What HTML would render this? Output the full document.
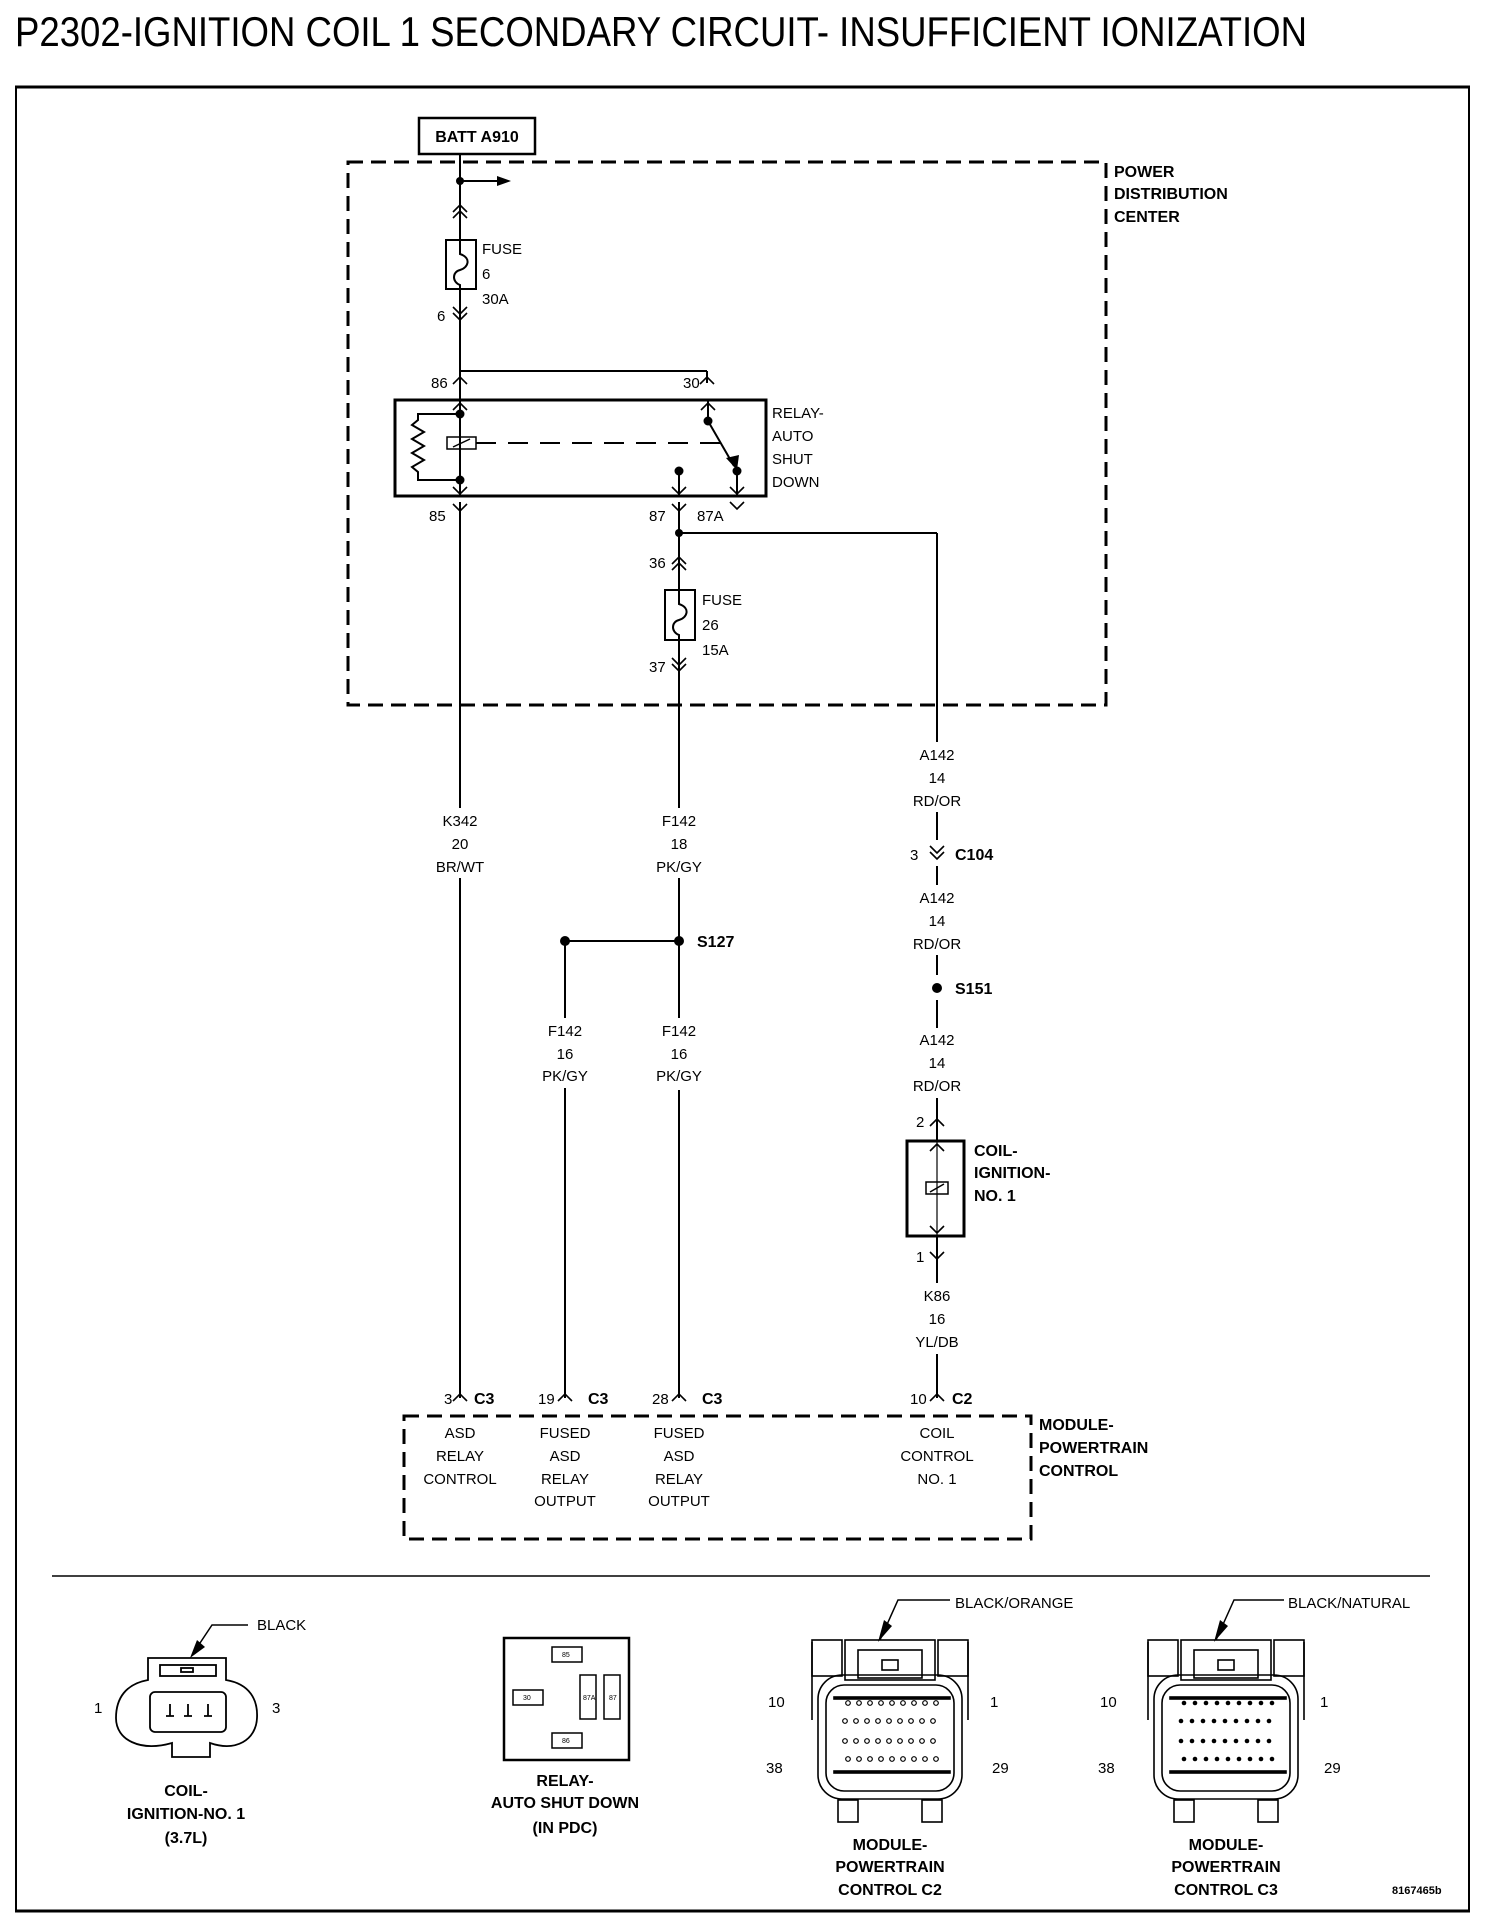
<!DOCTYPE html>
<html><head><meta charset="utf-8"><style>
html,body{margin:0;padding:0;background:#fff}
svg{display:block}
text{font-family:"Liberation Sans Narrow","Liberation Sans",sans-serif;fill:#000}
.s{font-size:15px}
.b{font-size:16px;font-weight:bold}
.c{text-anchor:middle}
</style></head><body>
<svg width="1504" height="1928" viewBox="0 0 1504 1928" xmlns="http://www.w3.org/2000/svg">
<defs>
<path id="up" d="M-7,7 L0,0 L7,7" fill="none" stroke="#000" stroke-width="1.6"/>
<path id="dn" d="M-7,-7 L0,0 L7,-7" fill="none" stroke="#000" stroke-width="1.6"/>
</defs>
<text x="15" y="46" font-family="Liberation Sans" font-size="42" textLength="1292" lengthAdjust="spacingAndGlyphs" style="font-family:'Liberation Sans',sans-serif">P2302-IGNITION COIL 1 SECONDARY CIRCUIT- INSUFFICIENT IONIZATION</text>
<g stroke="#000" fill="none">
<line x1="15" y1="87" x2="1470" y2="87" stroke-width="3"/>
<line x1="16" y1="87" x2="16" y2="1912" stroke-width="2"/>
<line x1="1469" y1="87" x2="1469" y2="1912" stroke-width="2"/>
<line x1="15" y1="1911" x2="1470" y2="1911" stroke-width="3"/>
<line x1="52" y1="1576" x2="1430" y2="1576" stroke-width="1.5"/>
<rect x="348" y="162" width="758" height="543" stroke-width="3" stroke-dasharray="15,8"/>
<rect x="404" y="1416" width="627" height="123" stroke-width="3" stroke-dasharray="15,8"/>
<rect x="419" y="118" width="116" height="36" stroke-width="2.5"/>
</g>
<text x="477" y="142" class="b c">BATT A910</text>
<text x="1114" y="177" class="b">POWER</text>
<text x="1114" y="199" class="b">DISTRIBUTION</text>
<text x="1114" y="222" class="b">CENTER</text>

<g stroke="#000" stroke-width="2" fill="none">
<line x1="460" y1="154" x2="460" y2="240"/>
<line x1="460" y1="181" x2="500" y2="181"/>
<line x1="460" y1="289" x2="460" y2="399"/>
<rect x="446" y="240" width="30" height="49"/>
<path d="M460,240 L460,254 C472,258 468,268 460,270 C452,272 452,282 460,285 L460,289"/>
<line x1="460" y1="371" x2="707" y2="371"/>
<line x1="707" y1="371" x2="707" y2="383"/>
<rect x="395" y="400" width="371" height="96" stroke-width="3"/>
<line x1="460" y1="400" x2="460" y2="496"/>
<polyline points="460,414 418,414 418,420 412,425 424,432 412,439 424,446 412,453 424,460 412,467 418,472 418,480 460,480"/>
<rect x="447" y="437" width="29" height="12" stroke-width="1.5"/>
<line x1="453" y1="447" x2="470" y2="439" stroke-width="1.5"/>
<line x1="476" y1="443" x2="720" y2="443" stroke-dasharray="20,12"/>
<line x1="708" y1="400" x2="708" y2="421"/>
<line x1="708" y1="421" x2="734" y2="466"/>
<line x1="679" y1="471" x2="679" y2="496"/>
<line x1="737" y1="471" x2="737" y2="496"/>
<line x1="460" y1="502" x2="460" y2="808"/>
<line x1="460" y1="878" x2="460" y2="1398"/>
<line x1="679" y1="502" x2="679" y2="590"/>
<rect x="665" y="590" width="30" height="50"/>
<path d="M679,590 L679,604 C691,608 687,618 679,620 C671,622 671,632 679,635 L679,640"/>
<line x1="679" y1="640" x2="679" y2="808"/>
<line x1="679" y1="878" x2="679" y2="1018"/>
<line x1="679" y1="1090" x2="679" y2="1398"/>
<line x1="679" y1="533" x2="937" y2="533"/>
<line x1="937" y1="533" x2="937" y2="742"/>
<line x1="937" y1="812" x2="937" y2="840"/>
<line x1="937" y1="866" x2="937" y2="885"/>
<line x1="937" y1="955" x2="937" y2="975"/>
<line x1="937" y1="1000" x2="937" y2="1028"/>
<line x1="937" y1="1098" x2="937" y2="1141"/>
<rect x="907" y="1141" width="57" height="95" stroke-width="3"/>
<line x1="937" y1="1141" x2="937" y2="1236" stroke-width="1.2"/>
<rect x="926" y="1182" width="22" height="12" stroke-width="1.5"/>
<line x1="930" y1="1192" x2="944" y2="1184" stroke-width="1.5"/>
<line x1="937" y1="1236" x2="937" y2="1283"/>
<line x1="937" y1="1354" x2="937" y2="1398"/>
<line x1="565" y1="941" x2="679" y2="941"/>
<line x1="565" y1="941" x2="565" y2="1018"/>
<line x1="565" y1="1088" x2="565" y2="1398"/>
</g>
<polygon points="497,176 511,181 497,186" fill="#000"/>
<polygon points="726,458 737,470 739,455" fill="#000"/>
<g fill="#000">
<circle cx="460" cy="181" r="4"/>
<circle cx="460" cy="414" r="4.5"/><circle cx="460" cy="480" r="4.5"/>
<circle cx="708" cy="421" r="4.5"/><circle cx="737" cy="471" r="4.5"/><circle cx="679" cy="471" r="4.5"/>
<circle cx="679" cy="533" r="4"/>
<circle cx="565" cy="941" r="5"/><circle cx="679" cy="941" r="5"/>
<circle cx="937" cy="988" r="5"/>
</g>
<use href="#up" x="460" y="205"/><use href="#up" x="460" y="211"/>
<use href="#dn" x="460" y="314"/><use href="#dn" x="460" y="320"/>
<use href="#up" x="460" y="377"/><use href="#up" x="707" y="377"/>
<use href="#up" x="460" y="403"/><use href="#up" x="708" y="403"/>
<use href="#dn" x="460" y="494"/><use href="#dn" x="679" y="494"/><use href="#dn" x="737" y="494"/>
<use href="#dn" x="460" y="511"/><use href="#dn" x="679" y="511"/><use href="#dn" x="737" y="509"/>
<use href="#up" x="679" y="557"/><use href="#up" x="679" y="563"/>
<use href="#dn" x="679" y="665"/><use href="#dn" x="679" y="671"/>
<use href="#dn" x="937" y="853"/><use href="#dn" x="937" y="859"/>
<use href="#up" x="937" y="1119"/>
<use href="#up" x="937" y="1144"/><use href="#dn" x="937" y="1233"/>
<use href="#dn" x="937" y="1259"/>
<use href="#up" x="460" y="1394"/><use href="#up" x="565" y="1394"/><use href="#up" x="679" y="1394"/><use href="#up" x="937" y="1394"/>

<g class="s">
<text x="482" y="254">FUSE</text><text x="482" y="279">6</text><text x="482" y="304">30A</text>
<text x="437" y="321">6</text>
<text x="431" y="388">86</text><text x="683" y="388">30</text>
<text x="772" y="418">RELAY-</text><text x="772" y="441">AUTO</text><text x="772" y="464">SHUT</text><text x="772" y="487">DOWN</text>
<text x="429" y="521">85</text><text x="649" y="521">87</text><text x="697" y="521">87A</text>
<text x="649" y="568">36</text>
<text x="702" y="605">FUSE</text><text x="702" y="630">26</text><text x="702" y="655">15A</text>
<text x="649" y="672">37</text>
<g class="c">
<text x="460" y="826">K342</text><text x="460" y="849">20</text><text x="460" y="872">BR/WT</text>
<text x="679" y="826">F142</text><text x="679" y="849">18</text><text x="679" y="872">PK/GY</text>
<text x="937" y="760">A142</text><text x="937" y="783">14</text><text x="937" y="806">RD/OR</text>
<text x="937" y="903">A142</text><text x="937" y="926">14</text><text x="937" y="949">RD/OR</text>
<text x="937" y="1045">A142</text><text x="937" y="1068">14</text><text x="937" y="1091">RD/OR</text>
<text x="565" y="1036">F142</text><text x="565" y="1059">16</text><text x="565" y="1081">PK/GY</text>
<text x="679" y="1036">F142</text><text x="679" y="1059">16</text><text x="679" y="1081">PK/GY</text>
<text x="937" y="1301">K86</text><text x="937" y="1324">16</text><text x="937" y="1347">YL/DB</text>
<text x="460" y="1438">ASD</text><text x="460" y="1461">RELAY</text><text x="460" y="1484">CONTROL</text>
<text x="565" y="1438">FUSED</text><text x="565" y="1461">ASD</text><text x="565" y="1484">RELAY</text><text x="565" y="1506">OUTPUT</text>
<text x="679" y="1438">FUSED</text><text x="679" y="1461">ASD</text><text x="679" y="1484">RELAY</text><text x="679" y="1506">OUTPUT</text>
<text x="937" y="1438">COIL</text><text x="937" y="1461">CONTROL</text><text x="937" y="1484">NO. 1</text>
</g>
<text x="910" y="860">3</text>
<text x="916" y="1127">2</text>
<text x="916" y="1262">1</text>
<text x="444" y="1404">3</text><text x="538" y="1404">19</text><text x="652" y="1404">28</text><text x="910" y="1404">10</text>
</g>
<g class="b">
<text x="955" y="860">C104</text>
<text x="697" y="947">S127</text>
<text x="955" y="994">S151</text>
<text x="974" y="1156">COIL-</text><text x="974" y="1178">IGNITION-</text><text x="974" y="1201">NO. 1</text>
<text x="474" y="1404">C3</text><text x="588" y="1404">C3</text><text x="702" y="1404">C3</text><text x="952" y="1404">C2</text>
<text x="1039" y="1430">MODULE-</text><text x="1039" y="1453">POWERTRAIN</text><text x="1039" y="1476">CONTROL</text>
</g>

<g stroke="#000" stroke-width="1.8" fill="none">
<path d="M148,1658 H226 V1680 C250,1684 258,1700 257,1718 C256,1740 236,1752 210,1743 V1757 H172 V1743 C140,1752 116,1740 116,1718 C116,1698 126,1684 148,1680 Z"/>
<rect x="160" y="1665" width="56" height="11"/>
<rect x="181" y="1668" width="12" height="4"/>
<rect x="150" y="1692" width="76" height="40" rx="5"/>
<path d="M166,1716 h8 M170,1704 v12 M184,1716 h8 M188,1704 v12 M204,1716 h8 M208,1704 v12"/>
<path d="M194,1652 L212,1625 H248" stroke-width="1.5"/>
</g>
<polygon points="190,1658 197,1640 205,1647" fill="#000"/>
<g class="s">
<text x="257" y="1630">BLACK</text>
<text x="94" y="1713">1</text><text x="272" y="1713">3</text>
<text x="955" y="1608">BLACK/ORANGE</text>
<text x="1288" y="1608">BLACK/NATURAL</text>
<text x="768" y="1707">10</text><text x="990" y="1707">1</text>
<text x="766" y="1773">38</text><text x="992" y="1773">29</text>
<text x="1100" y="1707">10</text><text x="1320" y="1707">1</text>
<text x="1098" y="1773">38</text><text x="1324" y="1773">29</text>
</g>
<g class="b c">
<text x="186" y="1796">COIL-</text><text x="186" y="1819">IGNITION-NO. 1</text><text x="186" y="1843">(3.7L)</text>
<text x="565" y="1786">RELAY-</text><text x="565" y="1808">AUTO SHUT DOWN</text><text x="565" y="1833">(IN PDC)</text>
<text x="890" y="1850">MODULE-</text><text x="890" y="1872">POWERTRAIN</text><text x="890" y="1895">CONTROL C2</text>
<text x="1226" y="1850">MODULE-</text><text x="1226" y="1872">POWERTRAIN</text><text x="1226" y="1895">CONTROL C3</text>
</g>
<text x="1392" y="1894" style="font-size:11px;font-weight:bold">8167465b</text>
<g stroke="#000" fill="none" stroke-width="2">
<rect x="504" y="1638" width="125" height="122" stroke-width="2.5"/>
<rect x="552" y="1647" width="30" height="15" stroke-width="1.5"/>
<rect x="513" y="1690" width="30" height="15" stroke-width="1.5"/>
<rect x="580" y="1675" width="16" height="44" stroke-width="1.5"/>
<rect x="604" y="1675" width="16" height="44" stroke-width="1.5"/>
<rect x="552" y="1733" width="30" height="15" stroke-width="1.5"/>
</g>
<g style="font-size:7px"><text x="562" y="1657">85</text><text x="523" y="1700">30</text><text x="583" y="1700">87A</text><text x="609" y="1700">87</text><text x="562" y="1743">86</text></g>
<g id="pc" stroke="#000" fill="none" stroke-width="1.6">
<rect x="818" y="1675" width="144" height="124" rx="24"/>
<rect x="826" y="1685" width="128" height="106" rx="18"/>
<path d="M812,1642 V1720 M968,1642 V1720"/>
<rect x="812" y="1640" width="30" height="36"/><rect x="938" y="1640" width="30" height="36"/>
<rect x="845" y="1640" width="90" height="40"/>
<rect x="858" y="1650" width="64" height="28"/>
<rect x="882" y="1660" width="16" height="10"/>
<rect x="838" y="1800" width="20" height="22"/><rect x="922" y="1800" width="20" height="22"/>
<rect x="834" y="1697" width="116" height="2" fill="#000"/>
<rect x="834" y="1771" width="116" height="2" fill="#000"/>
</g>
<g fill="none" stroke="#000" stroke-width="1.2">
<g id="pins">
<circle cx="848" cy="1703" r="2.3"/><circle cx="859" cy="1703" r="2.3"/><circle cx="870" cy="1703" r="2.3"/><circle cx="881" cy="1703" r="2.3"/><circle cx="892" cy="1703" r="2.3"/><circle cx="903" cy="1703" r="2.3"/><circle cx="914" cy="1703" r="2.3"/><circle cx="925" cy="1703" r="2.3"/><circle cx="936" cy="1703" r="2.3"/>
<circle cx="845" cy="1721" r="2.3"/><circle cx="856" cy="1721" r="2.3"/><circle cx="867" cy="1721" r="2.3"/><circle cx="878" cy="1721" r="2.3"/><circle cx="889" cy="1721" r="2.3"/><circle cx="900" cy="1721" r="2.3"/><circle cx="911" cy="1721" r="2.3"/><circle cx="922" cy="1721" r="2.3"/><circle cx="933" cy="1721" r="2.3"/>
<circle cx="845" cy="1741" r="2.3"/><circle cx="856" cy="1741" r="2.3"/><circle cx="867" cy="1741" r="2.3"/><circle cx="878" cy="1741" r="2.3"/><circle cx="889" cy="1741" r="2.3"/><circle cx="900" cy="1741" r="2.3"/><circle cx="911" cy="1741" r="2.3"/><circle cx="922" cy="1741" r="2.3"/><circle cx="933" cy="1741" r="2.3"/>
<circle cx="848" cy="1759" r="2.3"/><circle cx="859" cy="1759" r="2.3"/><circle cx="870" cy="1759" r="2.3"/><circle cx="881" cy="1759" r="2.3"/><circle cx="892" cy="1759" r="2.3"/><circle cx="903" cy="1759" r="2.3"/><circle cx="914" cy="1759" r="2.3"/><circle cx="925" cy="1759" r="2.3"/><circle cx="936" cy="1759" r="2.3"/>
</g>
</g>
<use href="#pc" x="336"/>
<use href="#pins" x="336"/>
<path d="M880,1640 L898,1600 H950" stroke="#000" fill="none" stroke-width="1.5"/>
<polygon points="878,1642 884,1620 892,1626" fill="#000"/>
<path d="M1216,1640 L1234,1600 H1284" stroke="#000" fill="none" stroke-width="1.5"/>
<polygon points="1214,1642 1220,1620 1228,1626" fill="#000"/>
</svg>
</body></html>
